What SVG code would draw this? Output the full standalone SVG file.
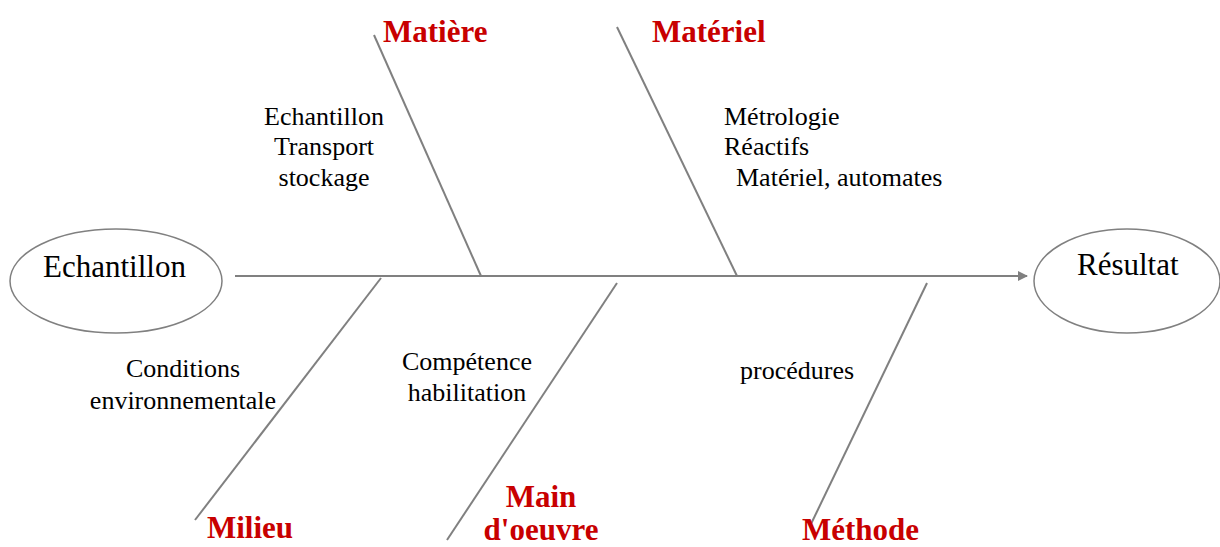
<svg xmlns="http://www.w3.org/2000/svg" width="1220" height="547" viewBox="0 0 1220 547">
<defs>
<style>
.bone{stroke:#808080;stroke-width:2;fill:none}
.node{fill:#fff;stroke:#808080;stroke-width:1.5}
.t{font-family:"Liberation Serif","Times New Roman",serif;fill:#000}
.n{font-size:31px}
.s{font-size:26px}
.c{text-anchor:middle}
.r{font-family:"Liberation Serif","Times New Roman",serif;font-size:31px;font-weight:bold;fill:#c80000}
</style>
<marker id="arr" markerWidth="10" markerHeight="10" refX="9" refY="5" orient="auto" markerUnits="userSpaceOnUse" viewBox="0 0 10 10">
<path d="M0,0 L10,5 L0,10 z" fill="#808080"/>
</marker>
</defs>
<rect width="1220" height="547" fill="#fff"/>
<g id="connectors">
<line class="bone" x1="235" y1="276" x2="1027" y2="276" marker-end="url(#arr)"/>
<line class="bone" x1="374" y1="35" x2="481" y2="276"/>
<line class="bone" x1="617" y1="27" x2="737" y2="276"/>
<line class="bone" x1="381" y1="278" x2="195" y2="520"/>
<line class="bone" x1="617" y1="283" x2="447" y2="540"/>
<line class="bone" x1="927" y1="283" x2="811" y2="524"/>
</g>
<g id="node-echantillon">
<ellipse class="node" cx="116" cy="281" rx="106" ry="52"/>
<text class="t n" x="43" y="277">Echantillon</text>
</g>
<g id="node-resultat">
<ellipse class="node" cx="1127" cy="281" rx="93" ry="52"/>
<text class="t n" x="1077" y="275">Résultat</text>
</g>
<g id="cause-matiere">
<text class="r" x="383" y="42">Matière</text>
<text class="t s c" x="324" y="125">Echantillon</text>
<text class="t s c" x="324" y="155">Transport</text>
<text class="t s c" x="324" y="186">stockage</text>
</g>
<g id="cause-materiel">
<text class="r" x="652" y="42">Matériel</text>
<text class="t s" x="724" y="125">Métrologie</text>
<text class="t s" x="724" y="155">Réactifs</text>
<text class="t s" x="736" y="186">Matériel, automates</text>
</g>
<g id="cause-milieu">
<text class="r" x="207" y="538">Milieu</text>
<text class="t s c" x="183" y="377">Conditions</text>
<text class="t s c" x="183" y="409">environnementale</text>
</g>
<g id="cause-main-oeuvre">
<text class="r c" x="541" y="507">Main</text>
<text class="r c" x="541" y="540">d'oeuvre</text>
<text class="t s c" x="467" y="370">Compétence</text>
<text class="t s c" x="467" y="401">habilitation</text>
</g>
<g id="cause-methode">
<text class="r" x="802" y="540">Méthode</text>
<text class="t s" x="740" y="379">procédures</text>
</g>
</svg>
